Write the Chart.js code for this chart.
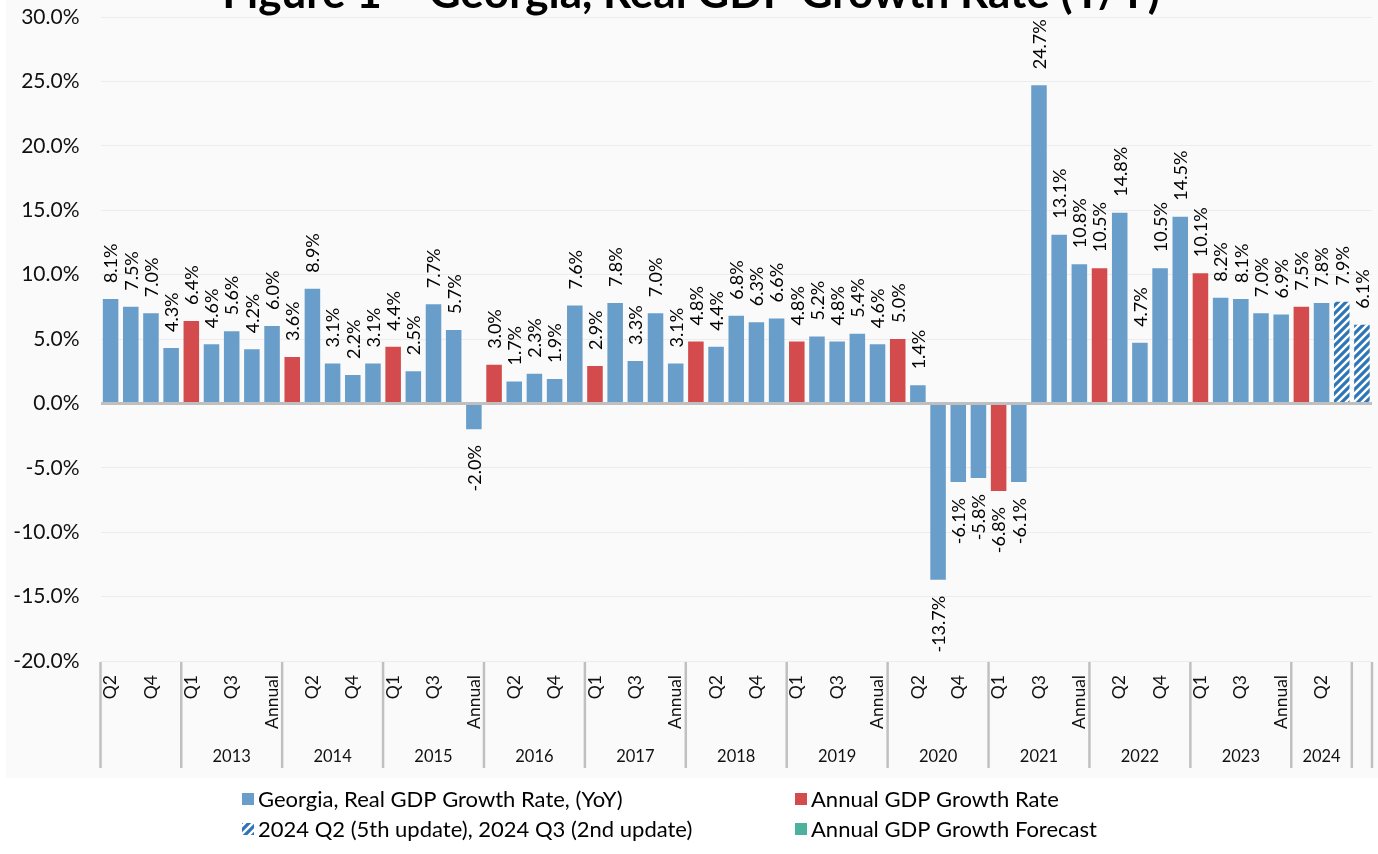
<!DOCTYPE html>
<html>
<head>
<meta charset="utf-8">
<script src="https://cdn.jsdelivr.net/npm/chart.js@4.4.1/dist/chart.umd.min.js"></script>
<style>
  body { margin: 0; background: #fff; }
  canvas { display: block; }
</style>
</head>
<body>
<canvas id="gdp" width="1378" height="854"></canvas>
<script>
// year groups under the axis and the periods inside each of them
const years = ['', '2013', '2014', '2015', '2016', '2017', '2018', '2019', '2020', '2021', '2022', '2023', '2024', ''];
const periods = [
  ['Q2', 'Q3', 'Q4', 'Annual'],
  ['Q1', 'Q2', 'Q3', 'Q4', 'Annual'],
  ['Q1', 'Q2', 'Q3', 'Q4', 'Annual'],
  ['Q1', 'Q2', 'Q3', 'Q4', 'Annual'],
  ['Q1', 'Q2', 'Q3', 'Q4', 'Annual'],
  ['Q1', 'Q2', 'Q3', 'Q4', 'Annual'],
  ['Q1', 'Q2', 'Q3', 'Q4', 'Annual'],
  ['Q1', 'Q2', 'Q3', 'Q4', 'Annual'],
  ['Q1', 'Q2', 'Q3', 'Q4', 'Annual'],
  ['Q1', 'Q2', 'Q3', 'Q4', 'Annual'],
  ['Q1', 'Q2', 'Q3', 'Q4', 'Annual'],
  ['Q1', 'Q2', 'Q3', 'Q4', 'Annual'],
  ['Q1', 'Q2', 'Q3'],
  ['']
];

// growth, % y/y, one value per category
const growth = [
  8.1, 7.5, 7.0, 4.3,
  6.4, 4.6, 5.6, 4.2, 6.0,
  3.6, 8.9, 3.1, 2.2, 3.1,
  4.4, 2.5, 7.7, 5.7, -2.0,
  3.0, 1.7, 2.3, 1.9, 7.6,
  2.9, 7.8, 3.3, 7.0, 3.1,
  4.8, 4.4, 6.8, 6.3, 6.6,
  4.8, 5.2, 4.8, 5.4, 4.6,
  5.0, 1.4, -13.7, -6.1, -5.8,
  -6.8, -6.1, 24.7, 13.1, 10.8,
  10.5, 14.8, 4.7, 10.5, 14.5,
  10.1, 8.2, 8.1, 7.0, 6.9,
  7.5, 7.8, 7.9,
  6.1
];
// q = quarterly, a = annual, u = updated estimate
const kind = [
  'q', 'q', 'q', 'q',
  'a', 'q', 'q', 'q', 'q',
  'a', 'q', 'q', 'q', 'q',
  'a', 'q', 'q', 'q', 'q',
  'a', 'q', 'q', 'q', 'q',
  'a', 'q', 'q', 'q', 'q',
  'a', 'q', 'q', 'q', 'q',
  'a', 'q', 'q', 'q', 'q',
  'a', 'q', 'q', 'q', 'q',
  'a', 'q', 'q', 'q', 'q',
  'a', 'q', 'q', 'q', 'q',
  'a', 'q', 'q', 'q', 'q',
  'a', 'q', 'u',
  'u'
];
const yTicks = [-20, -15, -10, -5, 0, 5, 10, 15, 20, 25, 30];

const labels = periods.flat();
const blue = 'rgb(106,158,202)';
const red = 'rgb(211,75,76)';
const stripeBlue = 'rgb(46,117,182)';
const teal = 'rgb(77,178,156)';
const FONT = 'Lato';

function makeHatch() {
  const c = document.createElement('canvas');
  c.width = 8; c.height = 8;
  const g = c.getContext('2d');
  g.fillStyle = '#fff';
  g.fillRect(0, 0, 8, 8);
  g.strokeStyle = stripeBlue;
  g.lineWidth = 3.2;
  g.beginPath();
  g.moveTo(-2, 10); g.lineTo(10, -2);
  g.moveTo(-2, 2); g.lineTo(2, -2);
  g.moveTo(6, 10); g.lineTo(10, 6);
  g.stroke();
  return g.createPattern(c, 'repeat');
}
const hatch = makeHatch();

function pick(k) {
  return growth.map((v, i) => kind[i] === k ? v : null);
}

const background = {
  id: 'background',
  beforeDraw(chart) {
    const ctx = chart.ctx;
    ctx.save();
    ctx.fillStyle = '#fff';
    ctx.fillRect(0, 0, chart.width, chart.height);
    ctx.fillStyle = '#fafafa';
    ctx.fillRect(6, 0, chart.width - 6, 778);
    ctx.restore();
  }
};

const barLabels = {
  id: 'barLabels',
  afterDatasetsDraw(chart) {
    const ctx = chart.ctx;
    ctx.save();
    ctx.font = '18px ' + FONT;
    ctx.fillStyle = '#000';
    ctx.textBaseline = 'middle';
    chart.data.datasets.forEach((ds, di) => {
      chart.getDatasetMeta(di).data.forEach((bar, i) => {
        const v = ds.data[i];
        if (v === null || v === undefined) return;
        ctx.save();
        ctx.translate(bar.x + 1, v >= 0 ? bar.y - 16 : bar.y + 16);
        ctx.rotate(-Math.PI / 2);
        ctx.textAlign = v >= 0 ? 'left' : 'right';
        ctx.fillText(v.toFixed(1) + '%', 0, 0);
        ctx.restore();
      });
    });
    ctx.restore();
  }
};

const groupedAxis = {
  id: 'groupedAxis',
  afterDraw(chart) {
    const x = chart.scales.x;
    const ctx = chart.ctx;
    const half = (x.getPixelForValue(1) - x.getPixelForValue(0)) / 2;
    ctx.save();
    ctx.fillStyle = '#111';
    // period labels, every second one as Excel skips them
    ctx.font = '17.5px ' + FONT;
    ctx.textAlign = 'right';
    ctx.textBaseline = 'middle';
    labels.forEach((lab, i) => {
      if (i % 2 !== 0 || !lab) return;
      ctx.save();
      ctx.translate(x.getPixelForValue(i), 675);
      ctx.rotate(-Math.PI / 2);
      ctx.fillText(lab, 0, 0);
      ctx.restore();
    });
    // year groups
    ctx.strokeStyle = '#c0c0c0';
    ctx.lineWidth = 2.5;
    ctx.font = '16.5px ' + FONT;
    ctx.textAlign = 'center';
    let start = 0;
    let right = 0;
    periods.forEach((p, g) => {
      const left = x.getPixelForValue(start) - half;
      right = x.getPixelForValue(start + p.length - 1) + half;
      ctx.beginPath();
      ctx.moveTo(left, 662);
      ctx.lineTo(left, 768);
      ctx.stroke();
      if (years[g]) ctx.fillText(years[g], (left + right) / 2, 757);
      start += p.length;
    });
    ctx.beginPath();
    ctx.moveTo(right, 662);
    ctx.lineTo(right, 768);
    ctx.stroke();
    ctx.restore();
  }
};

const titleAndLegend = {
  id: 'titleAndLegend',
  afterDraw(chart) {
    const ctx = chart.ctx;
    ctx.save();
    ctx.fillStyle = '#000';
    ctx.font = 'bold 44px ' + FONT;
    ctx.textAlign = 'center';
    ctx.textBaseline = 'alphabetic';
    ctx.fillText('Figure 1 \u2013 Georgia, Real GDP Growth Rate (Y/Y)', 691, 8);

    const spots = [[242, 799], [795, 799], [242, 829], [795, 829]];
    ctx.font = '22px ' + FONT;
    ctx.textAlign = 'left';
    ctx.textBaseline = 'middle';
    chart.data.datasets.forEach((ds, i) => {
      const [lx, ly] = spots[i];
      ctx.fillStyle = ds.backgroundColor;
      ctx.fillRect(lx, ly - 6, 12, 12);
      ctx.fillStyle = '#000';
      ctx.fillText(ds.label, lx + 16, ly + 1);
    });
    ctx.restore();
  }
};

new Chart(document.getElementById('gdp'), {
  type: 'bar',
  data: {
    labels: labels,
    datasets: [
      { label: 'Georgia, Real GDP Growth Rate, (YoY)', data: pick('q'), backgroundColor: blue },
      { label: 'Annual GDP Growth Rate', data: pick('a'), backgroundColor: red },
      { label: '2024 Q2 (5th update), 2024 Q3 (2nd update)', data: pick('u'), backgroundColor: hatch },
      { label: 'Annual GDP Growth Forecast', data: labels.map(() => null), backgroundColor: teal }
    ]
  },
  options: {
    responsive: false,
    animation: false,
    layout: { padding: { top: 17, right: 6, bottom: 193, left: 0 } },
    datasets: { bar: { categoryPercentage: 1, barPercentage: 0.77 } },
    plugins: { legend: { display: false }, tooltip: { enabled: false } },
    scales: {
      x: { stacked: true, display: false },
      y: {
        stacked: true,
        min: yTicks[0],
        max: yTicks[yTicks.length - 1],
        afterBuildTicks: s => { s.ticks = yTicks.map(v => ({ value: v })); },
        afterFit: s => { s.width = 100.5; s.paddingTop = 0; s.paddingBottom = 0; },
        border: { display: false },
        grid: {
          drawTicks: false,
          color: c => c.tick.value === 0 ? '#bfbfbf' : '#ececec',
          lineWidth: c => c.tick.value === 0 ? 3 : 1
        },
        ticks: {
          padding: 21,
          color: '#111',
          font: { family: FONT, size: 21 },
          callback: v => v.toFixed(1) + '%'
        }
      }
    }
  },
  plugins: [background, barLabels, groupedAxis, titleAndLegend]
});
</script>
</body>
</html>
